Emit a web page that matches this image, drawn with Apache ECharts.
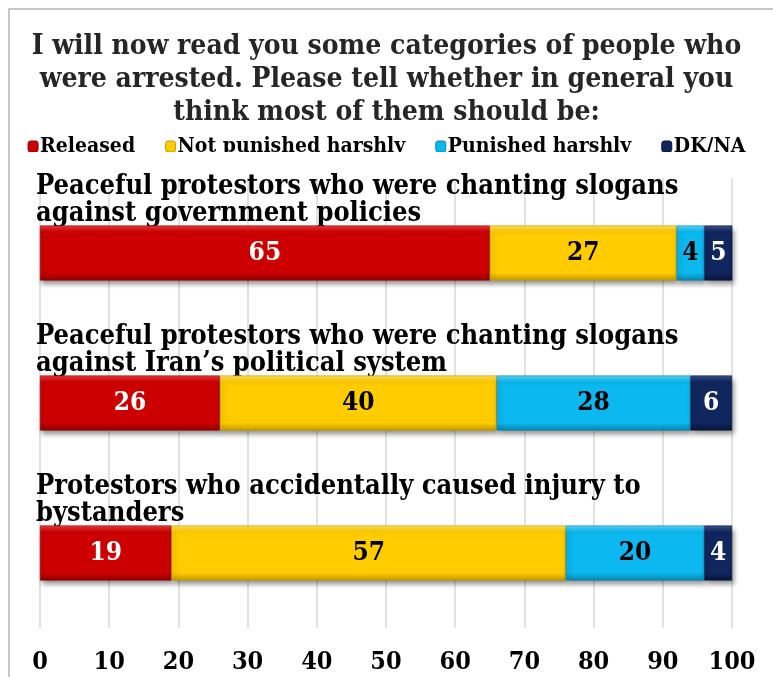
<!DOCTYPE html>
<html>
<head>
<meta charset="utf-8">
<style>
  html, body { margin: 0; padding: 0; background: #fff; }
  #chart { width: 773px; height: 677px; }
</style>
<script src="https://cdn.jsdelivr.net/npm/echarts@6/dist/echarts.min.js"></script>
</head>
<body>
<div id="chart"></div>
<script>
// Survey question and answer groups
const titleText = 'I will now read you some categories of people who\nwere arrested. Please tell whether in general you\nthink most of them should be:';
const categories = [
  'Peaceful protestors who were chanting slogans\nagainst government policies',
  'Peaceful protestors who were chanting slogans\nagainst Iran\u2019s political system',
  'Protestors who accidentally caused injury to\nbystanders'
];
const seriesNames = ['Released', 'Not punished harshly', 'Punished harshly', 'DK/NA'];
const released = [65, 26, 19];
const notHarsh = [27, 40, 57];
const harsh = [4, 28, 20];
const dkna = [5, 6, 4];
const xTicks = [0, 10, 20, 30, 40, 50, 60, 70, 80, 90, 100];

const FONT = '"DejaVu Serif Condensed", "DejaVu Serif", serif';

// Base colour, light top edge, dark bottom edge, label colour
const palette = [
  { base: '#CC0000', light: '#F03A3A', dark: '#8E0000', text: '#FFFFFF' },
  { base: '#FFCC00', light: '#FFE15A', dark: '#C49A00', text: '#000000' },
  { base: '#0BB8F0', light: '#5AD4FA', dark: '#0786B0', text: '#000000' },
  { base: '#10265E', light: '#3A5494', dark: '#07153A', text: '#FFFFFF' }
];

function bevel(p) {
  return new echarts.graphic.LinearGradient(0, 0, 0, 1, [
    { offset: 0, color: p.light },
    { offset: 0.12, color: p.base },
    { offset: 0.86, color: p.base },
    { offset: 1, color: p.dark }
  ]);
}

const values = [released, notHarsh, harsh, dkna];

const series = seriesNames.map((name, i) => ({
  name: name,
  type: 'bar',
  stack: 'total',
  barWidth: 55,
  data: values[i],
  itemStyle: {
    color: bevel(palette[i]),
    borderColor: palette[i].dark,
    borderWidth: 0.6,
    shadowColor: 'rgba(0,0,0,0.45)',
    shadowBlur: 5,
    shadowOffsetX: 2,
    shadowOffsetY: 4
  },
  label: {
    show: true,
    position: 'inside',
    color: palette[i].text,
    fontFamily: FONT,
    fontWeight: 'bold',
    fontSize: 26
  }
}));

const chart = echarts.init(document.getElementById('chart'), null, { renderer: 'canvas' });

chart.setOption({
  backgroundColor: '#ffffff',
  animation: false,
  title: {
    text: titleText,
    left: 'center',
    top: 25,
    textStyle: {
      fontFamily: FONT,
      fontWeight: 'bold',
      fontSize: 28,
      lineHeight: 33,
      color: '#262626'
    }
  },
  legend: {
    top: 131,
    left: 'center',
    itemWidth: 10,
    itemHeight: 11,
    itemGap: 30,
    data: seriesNames.map((n, i) => ({ name: n, itemStyle: { color: palette[i].base, borderColor: palette[i].dark, borderWidth: 1 } })),
    textStyle: {
      fontFamily: FONT,
      fontWeight: 'bold',
      fontSize: 21,
      color: '#000',
      padding: [0, 0, 0, -3]
    }
  },
  grid: { left: 40, right: 41, top: 178, bottom: 49, containLabel: false },
  xAxis: {
    type: 'value',
    min: xTicks[0],
    max: xTicks[xTicks.length - 1],
    interval: xTicks[1] - xTicks[0],
    axisLine: { show: false },
    axisTick: { show: false },
    splitLine: { show: true, lineStyle: { color: '#D9D9D9', width: 1.5 } },
    axisLabel: {
      margin: 22,
      fontFamily: FONT,
      fontWeight: 'bold',
      fontSize: 25,
      color: '#000'
    }
  },
  yAxis: {
    type: 'category',
    inverse: true,
    data: categories,
    axisLine: { show: false },
    axisTick: { show: false },
    axisLabel: {
      inside: true,
      margin: -4,
      align: 'left',
      verticalAlign: 'bottom',
      padding: [0, 0, 26, 0],
      fontFamily: FONT,
      fontWeight: 'bold',
      fontSize: 27,
      lineHeight: 27,
      color: '#000'
    }
  },
  series: series,
  graphic: [
    {
      type: 'rect',
      z: 100,
      shape: { x: 10, y: 152, width: 763, height: 18 },
      style: { fill: '#ffffff' }
    },
    {
      type: 'rect',
      z: 101,
      shape: { x: 9, y: 9, width: 900, height: 900 },
      style: { fill: 'none', stroke: '#B4B4B4', lineWidth: 1.5 }
    }
  ]
});
</script>
</body>
</html>
